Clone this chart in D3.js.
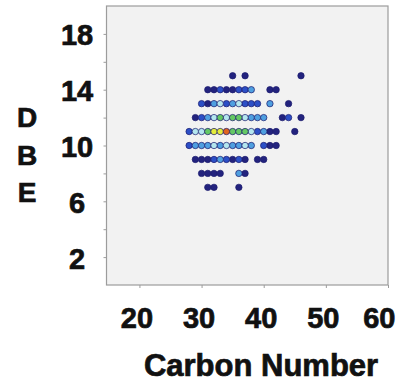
<!DOCTYPE html>
<html>
<head>
<meta charset="utf-8">
<script src="https://cdn.jsdelivr.net/npm/d3@7"></script>
<style>
  html, body { margin: 0; padding: 0; background: #ffffff; }
  svg { display: block; }
  text { font-family: "Liberation Sans", Arial, sans-serif; font-weight: bold; fill: #111; stroke: #111; stroke-width: 0.7px; }
</style>
</head>
<body>
<svg id="chart" width="400" height="381"></svg>
<script>
// Carbon number / DBE distribution, coloured by relative abundance (0 = low, 6 = high)
const carbon = [
  35, 37, 46,
  31, 32, 33, 34, 35, 36, 37, 38, 41, 42,
  30, 31, 32, 33, 34, 35, 36, 37, 38, 39, 41, 44,
  29, 30, 31, 32, 33, 34, 35, 36, 37, 38, 39, 40, 43, 44, 46,
  28, 29, 30, 31, 32, 33, 34, 35, 36, 37, 38, 39, 40, 41, 42, 45,
  28, 29, 30, 31, 32, 33, 34, 35, 36, 37, 38, 40, 41, 42,
  29, 30, 31, 32, 33, 34, 35, 36, 37, 39, 40,
  30, 31, 32, 33, 36, 37,
  31, 32, 36
];
const dbe = [
  15, 15, 15,
  14, 14, 14, 14, 14, 14, 14, 14, 14, 14,
  13, 13, 13, 13, 13, 13, 13, 13, 13, 13, 13, 13,
  12, 12, 12, 12, 12, 12, 12, 12, 12, 12, 12, 12, 12, 12, 12,
  11, 11, 11, 11, 11, 11, 11, 11, 11, 11, 11, 11, 11, 11, 11, 11,
  10, 10, 10, 10, 10, 10, 10, 10, 10, 10, 10, 10, 10, 10,
  9, 9, 9, 9, 9, 9, 9, 9, 9, 9, 9,
  8, 8, 8, 8, 8, 8,
  7, 7, 7
];
const abundance = [
  0, 0, 0,
  0, 0, 1, 0, 0, 1, 1, 2, 0, 0,
  1, 0, 2, 3, 1, 2, 3, 1, 1, 1, 2, 0,
  0, 1, 2, 3, 4, 3, 4, 4, 3, 2, 2, 2, 0, 1, 0,
  1, 3, 3, 4, 5, 5, 6, 4, 4, 4, 3, 1, 2, 0, 0, 0,
  1, 2, 2, 2, 3, 2, 3, 2, 2, 3, 2, 1, 0, 0,
  0, 0, 0, 1, 2, 1, 0, 1, 0, 0, 0,
  0, 0, 0, 0, 2, 0,
  0, 0, 0
];

const xTicks = [20, 30, 40, 50, 60];
const yTicks = [2, 4, 6, 8, 10, 12, 14, 16, 18];
const yLabels = [2, 6, 10, 14, 18];
const xTitle = "Carbon Number";
const yTitle = ["D", "B", "E"];

const svg = d3.select("#chart");
const plot = { left: 106.5, right: 388, top: 6, bottom: 285 };

const x = d3.scaleLinear().domain([14.7, 60]).range([plot.left, plot.right]);
const y = d3.scaleLinear().domain([0, 20]).range([plot.bottom, plot.top]);

const color = d3.scaleLinear()
  .domain([0, 1, 2, 3, 4, 5, 6])
  .range(["#23237e", "#2c4fc6", "#4f9fe0", "#b4e6ee", "#64c864", "#e4ec3c", "#e0641e"]);

// plot background and frame
svg.append("rect")
  .attr("x", plot.left).attr("y", plot.top)
  .attr("width", plot.right - plot.left).attr("height", plot.bottom - plot.top)
  .attr("fill", "#f2f2f2")
  .attr("stroke", "#9c9c9c")
  .attr("stroke-width", 1.2);

// x axis
const xAxis = svg.append("g")
  .attr("transform", `translate(0,${plot.bottom})`)
  .call(d3.axisBottom(x).tickValues(xTicks).tickSize(3).tickPadding(20));
xAxis.select(".domain").remove();
xAxis.selectAll(".tick line").attr("stroke", "#9c9c9c");
xAxis.selectAll(".tick text")
  .attr("font-size", 29)
  .attr("font-family", "Liberation Sans, Arial, sans-serif")
  .attr("font-weight", "bold")
  .attr("fill", "#111")
  .attr("dy", null)
  .attr("y", 42.5)
  .attr("dx", (d, i, n) => i === n.length - 1 ? 7 : -3)
  .attr("text-anchor", (d, i, n) => i === n.length - 1 ? "end" : "middle");

// y axis
const yAxis = svg.append("g")
  .attr("transform", `translate(${plot.left},0)`)
  .call(d3.axisLeft(y).tickValues(yTicks).tickSize(3)
    .tickFormat(d => yLabels.includes(d) ? d : ""));
yAxis.select(".domain").remove();
yAxis.selectAll(".tick line").attr("stroke", "#9c9c9c");
yAxis.selectAll(".tick text")
  .attr("font-size", 29)
  .attr("font-family", "Liberation Sans, Arial, sans-serif")
  .attr("font-weight", "bold")
  .attr("fill", "#111")
  .attr("text-anchor", "middle")
  .attr("x", 77 - plot.left)
  .attr("dy", "0.38em");

// axis titles
svg.append("text")
  .attr("x", 261).attr("y", 375.5)
  .attr("text-anchor", "middle")
  .attr("font-size", 31)
  .text(xTitle);

svg.selectAll(".ytitle")
  .data(yTitle)
  .join("text")
  .attr("class", "ytitle")
  .attr("x", 27)
  .attr("y", (d, i) => 127 + i * 37.5)
  .attr("text-anchor", "middle")
  .attr("font-size", 28)
  .text(d => d);

// data points, low abundance drawn first
const pts = carbon.map((c, i) => ({ c, d: dbe[i], a: abundance[i] }))
  .sort((p, q) => p.a - q.a);

svg.append("g")
  .selectAll("circle")
  .data(pts)
  .join("circle")
  .attr("cx", p => x(p.c))
  .attr("cy", p => y(p.d))
  .attr("r", 3.2)
  .attr("fill", p => color(p.a))
  .attr("stroke", "#1c1c6e")
  .attr("stroke-opacity", 0.8)
  .attr("stroke-width", 0.9);
</script>
</body>
</html>
